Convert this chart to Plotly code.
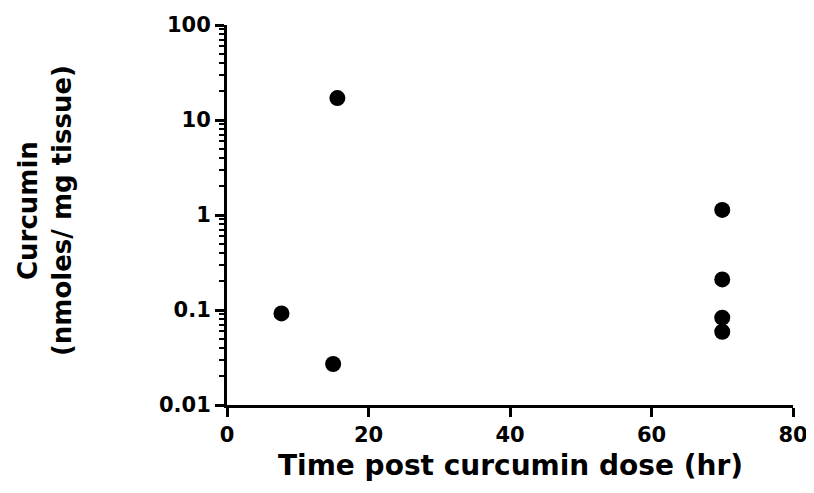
import plotly.graph_objects as go

time_hr = [7.7, 15.0, 15.6, 70, 70, 70, 70]
curcumin = [0.092, 0.027, 17.0, 1.13, 0.21, 0.083, 0.059]

x_ticks = [0, 20, 40, 60, 80]
y_ticks = [0.01, 0.1, 1, 10, 100]
y_tick_labels = ["0.01", "0.1", "1", "10", "100"]

font = "DejaVu Sans, Arial, sans-serif"

fig = go.Figure()
fig.add_trace(go.Scatter(
    x=time_hr, y=curcumin, mode="markers",
    marker=dict(color="black", size=16, line=dict(width=0)),
    cliponaxis=False, showlegend=False,
))

fig.update_layout(
    width=814, height=493,
    margin=dict(l=219, r=29, t=17, b=96),
    paper_bgcolor="white", plot_bgcolor="white",
    font=dict(family=font, color="black"),
)
fig.update_xaxes(
    range=[0, 80], tickvals=x_ticks, showgrid=False, zeroline=False,
    showline=True, linecolor="black", linewidth=3, automargin=False,
    ticks="outside", ticklen=9, tickwidth=3, tickcolor="black",
    tickfont=dict(size=21, family=font, weight="bold"),
)
fig.update_yaxes(
    type="log", range=[-2, 2], tickvals=y_ticks, ticktext=y_tick_labels,
    showgrid=False, zeroline=False, automargin=False,
    showline=True, linecolor="black", linewidth=3,
    ticks="outside", ticklen=9, tickwidth=3, tickcolor="black",
    tickfont=dict(size=21, family=font, weight="bold"),
    minor=dict(ticks="outside", ticklen=5, tickwidth=2, tickcolor="black",
               tickvals=[m * 10 ** e for e in range(-2, 2) for m in range(2, 10)],
               showgrid=False),
)
fig.add_annotation(
    text="<b>Time post curcumin dose (hr)</b>", xref="paper", yref="paper",
    x=0.5, y=-0.1605, xanchor="center", yanchor="middle", showarrow=False,
    font=dict(size=28, family=font, color="black"),
)
fig.add_annotation(
    text="<b>Curcumin<br>(nmoles/ mg tissue)</b>", xref="paper", yref="paper",
    x=-0.3216, y=0.513, xanchor="center", yanchor="middle", showarrow=False,
    textangle=-90, font=dict(size=26, family=font, color="black"),
)

fig.write_html("out.html")
